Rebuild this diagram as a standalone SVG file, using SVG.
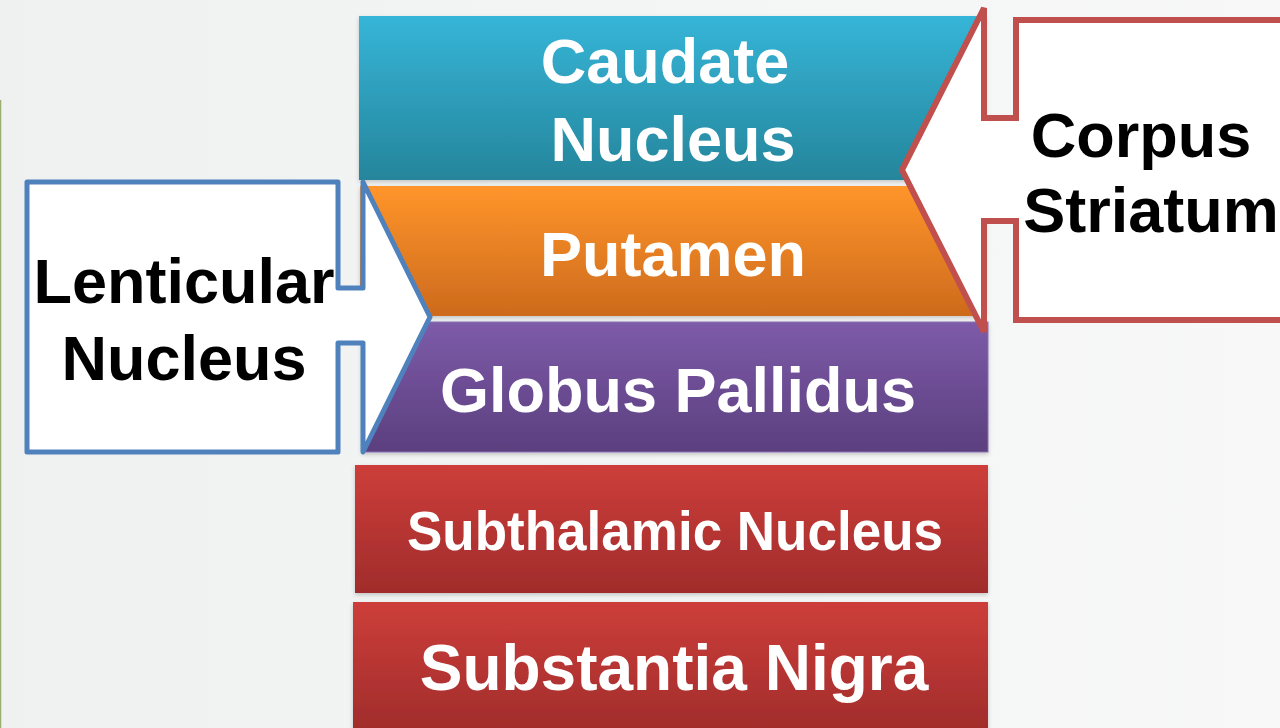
<svg xmlns="http://www.w3.org/2000/svg" width="1280" height="728" viewBox="0 0 1280 728">
<defs>
<linearGradient id="bg" x1="0" y1="0" x2="1" y2="0"><stop offset="0" stop-color="#eff1f1"/><stop offset="1" stop-color="#f8f8f8"/></linearGradient>
<linearGradient id="gTeal" x1="0" y1="0" x2="0" y2="1"><stop offset="0" stop-color="#36b5d8"/><stop offset="1" stop-color="#25859b"/></linearGradient>
<linearGradient id="gOrange" x1="0" y1="0" x2="0" y2="1"><stop offset="0" stop-color="#ff952a"/><stop offset="1" stop-color="#cd6a1d"/></linearGradient>
<linearGradient id="gPurple" x1="0" y1="0" x2="0" y2="1"><stop offset="0" stop-color="#7d5ba9"/><stop offset="1" stop-color="#5b3f7e"/></linearGradient>
<linearGradient id="gRed" x1="0" y1="0" x2="0" y2="1"><stop offset="0" stop-color="#cd3e3a"/><stop offset="1" stop-color="#a02c2b"/></linearGradient>
<filter id="sh" x="-5%" y="-5%" width="110%" height="115%"><feDropShadow dx="0" dy="2" stdDeviation="2" flood-color="#000" flood-opacity="0.2"/></filter>
</defs>
<style>
.w{fill:#fff;font-family:"Liberation Sans",Arial,sans-serif;font-weight:bold;text-anchor:middle}
.b{fill:#000;font-family:"Liberation Sans",Arial,sans-serif;font-weight:bold;text-anchor:middle}
.box{filter:url(#sh)}
</style>
<rect width="1280" height="728" fill="url(#bg)"/>
<line x1="0.5" y1="100" x2="0.5" y2="728" stroke="#9bb070" stroke-width="1.5"/>

<g id="caudate">
<rect class="box" x="359" y="16" width="627" height="164" fill="url(#gTeal)"/>
<text class="w" font-size="63" x="665" y="83">Caudate</text>
<text class="w" font-size="63" x="673" y="161">Nucleus</text>
</g>
<g id="putamen">
<rect class="box" x="360" y="186" width="626" height="130" fill="url(#gOrange)"/>
<text class="w" font-size="63" x="673" y="276">Putamen</text>
</g>
<g id="globus">
<rect class="box" x="362" y="322" width="626" height="130" fill="url(#gPurple)" stroke="#8a72b4" stroke-width="1"/>
<text class="w" font-size="63" x="678" y="412">Globus Pallidus</text>
</g>
<g id="subthalamic">
<rect class="box" x="355" y="465" width="633" height="128" fill="url(#gRed)"/>
<text class="w" font-size="55" x="675" y="550" textLength="536" lengthAdjust="spacingAndGlyphs">Subthalamic Nucleus</text>
</g>
<g id="substantia">
<rect class="box" x="353" y="602" width="635" height="130" fill="url(#gRed)"/>
<text class="w" font-size="64" x="674" y="690">Substantia Nigra</text>
</g>

<g id="connectors">
<g id="lenticular">
<path d="M27,182 H338 V288 H363 V182 L430,317 L363,452 V343 H338 V452 H27 Z" fill="#fff" stroke="#4f81bd" stroke-width="5" stroke-linejoin="round"/>
<text class="b" font-size="63" x="184" y="303">Lenticular</text>
<text class="b" font-size="63" x="184" y="380">Nucleus</text>
</g>
<g id="corpus">
<path d="M1290,20 H1016 V118 H984 V8 L902,170 L984,332 V221 H1016 V320 H1290" fill="#fff" stroke="#c0504d" stroke-width="6" stroke-linejoin="miter"/>
<text class="b" font-size="63" x="1141" y="157">Corpus</text>
<text class="b" font-size="63" x="1151" y="232">Striatum</text>
</g>
</g>
</svg>
